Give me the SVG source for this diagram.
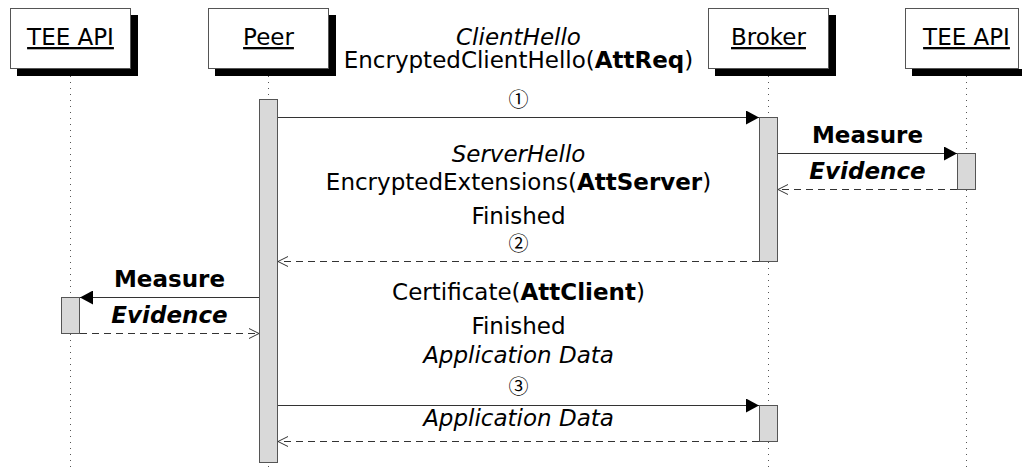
<svg xmlns="http://www.w3.org/2000/svg" width="1022" height="470" viewBox="0 0 1022 470">
  <style>
    .t { font-family: "DejaVu Sans", "Noto Sans", sans-serif; font-size: 23px; fill: #000; text-anchor: middle; }
    .b { font-weight: bold; }
    .i { font-style: italic; }
    .num { font-family: "Noto Sans CJK JP", "DejaVu Sans", sans-serif; font-size: 20px; fill: #000; text-anchor: middle; }
    .life { stroke: #555; stroke-width: 1; stroke-dasharray: 1 5; fill: none; }
    .bar { fill: #d9d9d9; stroke: #555; stroke-width: 1; }
    .box { fill: #fff; stroke: #555; stroke-width: 1; }
    .shadow { fill: #000; }
    .msg { stroke: #333; stroke-width: 1; fill: none; marker-end: url(#solid); }
    .ret { stroke: #333; stroke-width: 1; fill: none; stroke-dasharray: 7 5; marker-end: url(#open); }
  </style>
  <defs>
    <marker id="solid" markerUnits="userSpaceOnUse" markerWidth="14" markerHeight="14" refX="13" refY="7" orient="auto">
      <path d="M0,0 L13,7 L0,14 Z" fill="#000"/>
    </marker>
    <marker id="open" markerUnits="userSpaceOnUse" markerWidth="12" markerHeight="12" refX="10.5" refY="6" orient="auto">
      <path d="M0.5,1 L10.5,6 L0.5,11" fill="none" stroke="#333" stroke-width="1"/>
    </marker>
  </defs>

  <rect width="1022" height="470" fill="#fff"/>

  <!-- lifelines -->
  <g id="lifelines">
    <line class="life" x1="70.5" y1="76" x2="70.5" y2="470"/>
    <line class="life" x1="268.5" y1="76" x2="268.5" y2="470"/>
    <line class="life" x1="768.5" y1="76" x2="768.5" y2="470"/>
    <line class="life" x1="966.5" y1="76" x2="966.5" y2="470"/>
  </g>

  <!-- participants -->
  <g id="tee-left">
    <rect class="shadow" x="17" y="15" width="121" height="61"/>
    <rect class="box" x="10.5" y="8.5" width="120" height="60"/>
    <text class="t" x="70.5" y="45" text-decoration="underline">TEE API</text>
    <rect class="bar" x="61.5" y="297.5" width="18" height="36"/>
  </g>
  <g id="peer">
    <rect class="shadow" x="215" y="15" width="121" height="61"/>
    <rect class="box" x="208.5" y="8.5" width="120" height="60"/>
    <text class="t" x="268.5" y="45" text-decoration="underline">Peer</text>
    <rect class="bar" x="259.5" y="99.5" width="18" height="363"/>
  </g>
  <g id="broker">
    <rect class="shadow" x="715" y="15" width="121" height="61"/>
    <rect class="box" x="708.5" y="8.5" width="120" height="60"/>
    <text class="t" x="768.5" y="45" text-decoration="underline">Broker</text>
    <rect class="bar" x="759.5" y="117.5" width="18" height="144"/>
    <rect class="bar" x="759.5" y="405.5" width="18" height="36"/>
  </g>
  <g id="tee-right">
    <rect class="shadow" x="912" y="15" width="110" height="61"/>
    <rect x="905" y="8" width="117" height="61" fill="#fff"/>
    <rect class="box" x="905.5" y="8.5" width="113" height="60" fill="none"/>
    <text class="t" x="966.5" y="45" text-decoration="underline">TEE API</text>
    <rect class="bar" x="957.5" y="153.5" width="18" height="36"/>
  </g>

  <!-- messages -->
  <g id="connectors">
    <line class="msg" x1="278" y1="117.5" x2="759" y2="117.5"/>
    <line class="msg" x1="778" y1="153.5" x2="957" y2="153.5"/>
    <line class="ret" x1="957" y1="189.5" x2="778" y2="189.5"/>
    <line class="ret" x1="759" y1="261.5" x2="278" y2="261.5"/>
    <line class="msg" x1="259" y1="297.5" x2="80" y2="297.5"/>
    <line class="ret" x1="80" y1="333.5" x2="259" y2="333.5"/>
    <line class="msg" x1="278" y1="405.5" x2="759" y2="405.5"/>
    <line class="ret" x1="759" y1="441.5" x2="278" y2="441.5"/>
  </g>

  <!-- message labels -->
  <g id="labels">
    <text class="t i" x="518.5" y="44.5">ClientHello</text>
    <text class="t" x="518.5" y="67.5">EncryptedClientHello(<tspan class="b">AttReq</tspan>)</text>
    <text class="num" x="518.5" y="106.5">①</text>

    <text class="t b" x="867.5" y="143">Measure</text>
    <text class="t b i" x="867.5" y="179">Evidence</text>

    <text class="t i" x="518.5" y="161.5">ServerHello</text>
    <text class="t" x="518.5" y="190">EncryptedExtensions(<tspan class="b">AttServer</tspan>)</text>
    <text class="t" x="518.5" y="224">Finished</text>
    <text class="num" x="518.5" y="251">②</text>

    <text class="t b" x="169.5" y="287">Measure</text>
    <text class="t b i" x="169.5" y="323">Evidence</text>

    <text class="t" x="518.5" y="300">Certificate(<tspan class="b">AttClient</tspan>)</text>
    <text class="t" x="518.5" y="334">Finished</text>
    <text class="t i" x="518.5" y="362.5">Application Data</text>
    <text class="num" x="518.5" y="394">③</text>
    <text class="t i" x="518.5" y="426">Application Data</text>
  </g>
</svg>
